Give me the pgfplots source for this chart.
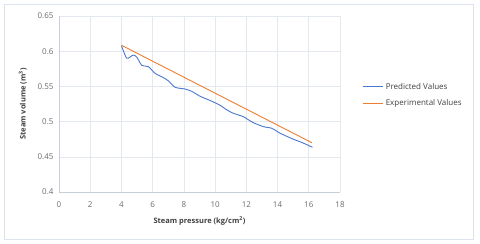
\documentclass[border=0pt]{standalone}
\usepackage{pgfplots}
\pgfplotsset{compat=1.18}
\usepackage{fontspec}
\setmainfont{Open Sans}
\definecolor{pblue}{HTML}{4A78CC}
\definecolor{porange}{HTML}{ED7D31}
\definecolor{gridc}{HTML}{E4E8EF}
\definecolor{axc}{HTML}{C9CFDA}
\definecolor{framec}{HTML}{DDE3EE}
\definecolor{tickc}{HTML}{6B6B6B}
\definecolor{labc}{HTML}{404040}
\begin{document}
\begin{tikzpicture}
\useasboundingbox (0,0) rectangle (480pt,244pt);
\draw[framec, line width=0.8pt] (4pt,5pt) rectangle (473pt,240pt);
\begin{axis}[
  at={(59pt,52pt)}, anchor=south west,
  width=281pt, height=176pt, scale only axis,
  xmin=0, xmax=18, ymin=0.4, ymax=0.65,
  xtick={0,2,...,18}, ytick={0.4,0.45,...,0.65},
  yticklabels={0.4,0.45,0.5,0.55,0.6,0.65},
  xmajorgrids, ymajorgrids,
  grid style={gridc, line width=0.6pt},
  axis x line*=bottom, axis y line*=left,
  axis line style={axc, line width=0.8pt},
  x axis line style={-}, y axis line style={-},
  major tick length=0pt,
  tick label style={font=\fontsize{8}{9}\selectfont, text=tickc},
  xticklabel style={yshift=-6pt},
  yticklabel style={xshift=-2pt},
  /pgf/number format/assume math mode=true,
  xlabel={Steam pressure (kg/cm\textsuperscript{2})},
  ylabel={Steam volume (m\textsuperscript{3})},
  label style={font=\bfseries\fontsize{7.5}{8}\selectfont, text=labc},
  xlabel style={yshift=-2pt},
  ylabel style={yshift=4pt},
  legend style={at={(1.07,0.55)}, anchor=west, draw=none, fill=none,
    font=\fontsize{8}{9}\selectfont, text=labc, row sep=5pt,
    legend cell align=left},
  legend image code/.code={\draw[#1] (0pt,0pt) -- (20pt,0pt);},
]
\addplot[pblue, line width=0.9pt, smooth, tension=0.4] coordinates {
(4.0,0.608) (4.34,0.590) (4.76,0.5946) (5.0,0.591) (5.3,0.580) (5.73,0.578)
(6.15,0.5686) (6.69,0.5624) (7.0,0.558) (7.44,0.5487) (8.08,0.5463)
(8.5,0.543) (9.04,0.536) (9.68,0.530) (10.28,0.5236) (10.8,0.516)
(11.17,0.5118) (11.81,0.507) (12.4,0.499) (13.1,0.4928) (13.63,0.4905)
(14.17,0.4834) (15.02,0.4749) (15.6,0.470) (16.24,0.4635)
};
\addlegendentry{Predicted Values}
\addplot[porange, line width=0.9pt] coordinates {
(4.0,0.6085) (16.2,0.470)
};
\addlegendentry{Experimental Values}
\end{axis}
\end{tikzpicture}
\end{document}
